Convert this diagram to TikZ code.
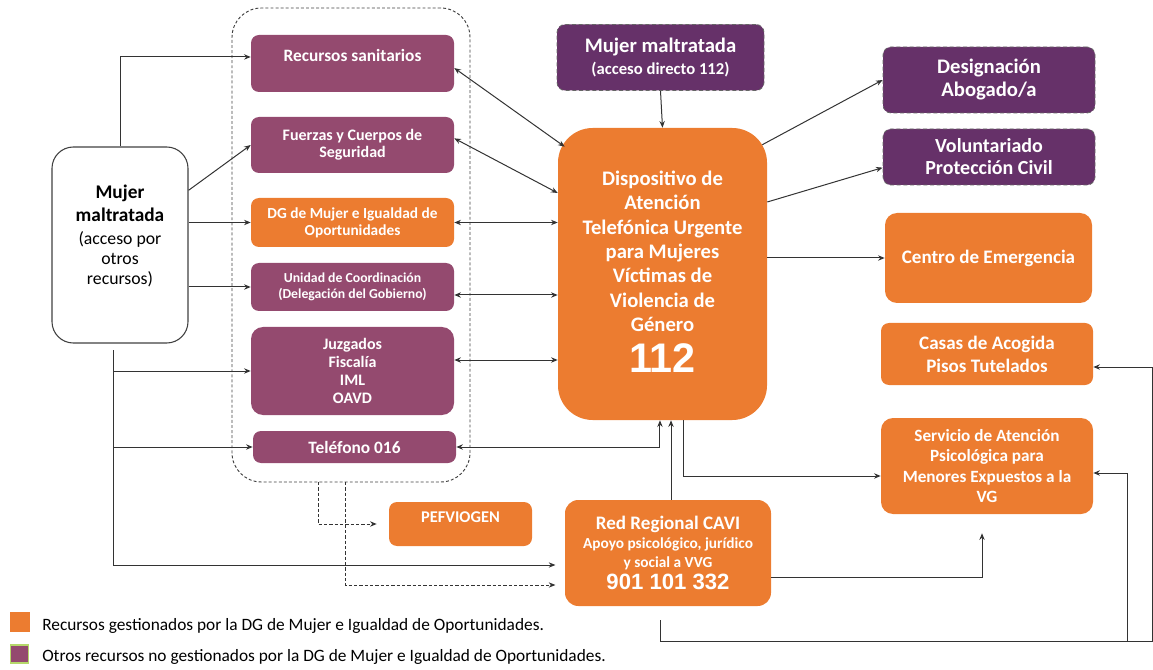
\documentclass[tikz,border=0pt]{standalone}
\usepackage{fontspec}
\setmainfont{Carlito}
\newfontfamily\arialfont{Liberation Sans}
\usetikzlibrary{arrows.meta,calc}
\definecolor{orng}{HTML}{EC7C30}
\definecolor{mauve}{HTML}{944A6F}
\definecolor{dpurp}{HTML}{663169}
\definecolor{lgreen}{HTML}{B5D86A}
\definecolor{lnc}{HTML}{333333}
\tikzset{
  x=0.75pt, y=-0.75pt,
  bx/.style={rounded corners=6pt, text=white, align=center, inner sep=1pt},
  pbox/.style={bx, fill=mauve},
  obox/.style={bx, fill=orng},
  dbox/.style={bx, fill=dpurp, draw=black!60, densely dashed, line width=0.6pt},
  arr/.style={draw=lnc, line width=0.75pt, -{Stealth[length=5pt,width=4pt]}},
  darr/.style={draw=lnc, line width=0.75pt, {Stealth[length=5pt,width=4pt]}-{Stealth[length=5pt,width=4pt]}},
  dsh/.style={arr, dash pattern=on 2.5pt off 1.5pt},
  lgtxt/.style={anchor=west, inner sep=0pt, font=\fontsize{13}{14}\selectfont},
}
\begin{document}
\begin{tikzpicture}
\useasboundingbox (0,0) rectangle (1153,670);
% dashed group
\node[draw=black!75, dash pattern=on 2.2pt off 1.6pt, line width=0.7pt, rounded corners=22pt,
  minimum width=238*0.75pt, minimum height=474*0.75pt] (grp) at (351,245) {};
% left box
\node[draw=black!75, line width=0.8pt, rounded corners=16pt, align=center, inner sep=0pt,
  minimum width=136*0.75pt, minimum height=196*0.75pt, font=\fontsize{13.3}{15}\selectfont] (lm) at (120,245)
  {\fontsize{14.5}{15}\selectfont\bfseries Mujer\\[2.25pt]\fontsize{14.5}{15}\selectfont\bfseries maltratada\\[2.25pt]
   (acceso por\\otros\\recursos)\\\mbox{}};
% resources inside group
\node[pbox, minimum width=203*0.75pt, minimum height=57*0.75pt, font=\bfseries\fontsize{13}{12.75}\selectfont] (rs) at (352.5,63.5) {Recursos sanitarios\\\mbox{}};
\node[pbox, minimum width=203*0.75pt, minimum height=56*0.75pt, font=\bfseries\fontsize{12}{12.75}\selectfont] (fz) at (352.5,145) {Fuerzas y Cuerpos de\\Seguridad};
\node[obox, minimum width=203*0.75pt, minimum height=49*0.75pt, font=\bfseries\fontsize{11.5}{12.75}\selectfont] (dg) at (352.5,222.5) {DG de Mujer e Igualdad de\\Oportunidades};
\node[pbox, minimum width=203*0.75pt, minimum height=48*0.75pt, font=\bfseries\fontsize{10.3}{12}\selectfont] (uc) at (352.5,287) {Unidad de Coordinación\\(Delegación del Gobierno)};
\node[pbox, rounded corners=9pt, minimum width=203*0.75pt, minimum height=88*0.75pt, font=\bfseries\fontsize{12}{13.5}\selectfont] (jz) at (352.5,371) {Juzgados\\Fiscalía\\IML\\OAVD};
\node[pbox, minimum width=203*0.75pt, minimum height=32*0.75pt, font=\bfseries\fontsize{13}{14}\selectfont] (tel) at (354.5,447) {Teléfono 016};
% top centre
\node[dbox, minimum width=207*0.75pt, minimum height=66*0.75pt, font=\bfseries\fontsize{15.5}{16.5}\selectfont] (md) at (660.5,57.5)
  {Mujer maltratada\\\fontsize{12.5}{13}\selectfont (acceso directo 112)};
% main 112
\node[obox, rounded corners=26pt, minimum width=209*0.75pt, minimum height=292*0.75pt, font=\bfseries\fontsize{15.5}{18.25}\selectfont] (d112) at (662.5,274)
  {Dispositivo de\\Atención\\Telefónica Urgente\\para Mujeres\\Víctimas de\\Violencia de\\Género\\[8pt]
   \arialfont\bfseries\fontsize{31}{32}\selectfont 112\\[-15pt]\mbox{}};
% right column
\node[dbox, minimum width=212*0.75pt, minimum height=66*0.75pt, font=\bfseries\fontsize{15.5}{17.25}\selectfont] (dab) at (989,80) {Designación\\Abogado/a};
\node[dbox, minimum width=212*0.75pt, minimum height=56*0.75pt, font=\bfseries\fontsize{15}{16.5}\selectfont] (vol) at (989,157) {Voluntariado\\Protección Civil};
\node[obox, rounded corners=9pt, minimum width=207*0.75pt, minimum height=90*0.75pt, font=\bfseries\fontsize{14.3}{16}\selectfont] (ce) at (988.5,258) {Centro de Emergencia};
\node[obox, minimum width=212*0.75pt, minimum height=62*0.75pt, font=\bfseries\fontsize{14.3}{17.25}\selectfont] (cas) at (987,354) {Casas de Acogida\\Pisos Tutelados};
\node[obox, rounded corners=9pt, minimum width=212*0.75pt, minimum height=96*0.75pt, font=\bfseries\fontsize{12.9}{15.25}\selectfont] (sap) at (987,466) {Servicio de Atención\\Psicológica para\\Menores Expuestos a la\\VG};
% bottom
\node[obox, rounded corners=10pt, minimum width=206*0.75pt, minimum height=106*0.75pt, font=\bfseries\fontsize{11.5}{14.25}\selectfont] (cavi) at (668,553)
  {\fontsize{14.3}{14.25}\selectfont Red Regional CAVI\\
   Apoyo psicológico, jurídico\\y social a VVG\\[2.25pt]
   \arialfont\bfseries\fontsize{16.6}{16}\selectfont 901 101 332};
\node[obox, minimum width=143*0.75pt, minimum height=44*0.75pt, font=\bfseries\fontsize{12.3}{10.5}\selectfont] (pef) at (460.5,524) {PEFVIOGEN\\\mbox{}};
% legend
\node[fill=orng, minimum size=15pt, inner sep=0pt] (lg1) at (19.5,622) {};
\node[fill=mauve, draw=lgreen, line width=0.8pt, minimum size=13.5pt, inner sep=0pt] (lg2) at (19.5,654) {};
\node[lgtxt] (lt1) at (42,626) {Recursos gestionados por la DG de Mujer e Igualdad de Oportunidades.};
\node[lgtxt] (lt2) at (42,657) {Otros recursos no gestionados por la DG de Mujer e Igualdad de Oportunidades.};
% connectors from left box
\draw[arr] (lm.north) |- ([yshift=4.9pt]rs.west);
\draw[arr] ([yshift=41pt]lm.east) -- (fz.west);
\draw[arr] (lm.east |- dg.west) -- (dg.west);
\draw[arr] (lm.east |- uc.west) -- (uc.west);
\coordinate (t0) at (113,350);
\draw[arr, shorten >=7pt] (t0) |- ([yshift=-9pt]cavi.west);
\draw[arr] (t0 |- jz.west) -- (jz.west);
\draw[arr] (t0 |- tel.west) -- (tel.west);
% dashed from group
\coordinate (g1) at (318,482);
\coordinate (g2) at (345,482);
\draw[dsh, shorten >=9pt] (g1) |- (pef.west);
\draw[dsh, shorten >=7pt] (g2) |- ([yshift=-24pt]cavi.west);
% group to 112
\draw[darr] ([yshift=-3.4pt]rs.east) -- ([shift={(7,19)}]d112.north west);
\draw[darr] ([yshift=5pt]fz.east) -- ([yshift=60.75pt]d112.west);
\draw[darr] (dg.east) -- (dg.east -| d112.west);
\draw[darr] ([yshift=-6pt]uc.east) -- ([yshift=-6pt]uc.east -| d112.west);
\draw[darr] ([yshift=8.25pt]jz.east) -- ([yshift=8.25pt]jz.east -| d112.west);
\draw[darr] (tel.east) -| ([xshift=-1.9pt]d112.south);
\draw[arr] (md.south) -- (d112.north);
\draw[arr] ([xshift=2.25pt]cavi.north) -- ([xshift=2.25pt]cavi.north |- d112.south);
\draw[arr] ([xshift=15.4pt]d112.south) |- ([yshift=-7.5pt]sap.west);
\draw[arr] ([yshift=-18pt]cavi.east) -| ([shift={(-5,19)}]sap.south);
% 112 to right
\draw[arr] ([shift={(-5,17)}]d112.north east) -- (dab.west);
\draw[arr] ([yshift=54pt]d112.east) -- ([yshift=-8pt]vol.west);
\draw[arr] (ce.west -| d112.east) -- (ce.west);
% bottom loop
\coordinate (b0) at (660,620);
\coordinate (b1) at (1152,641);
\coordinate (b2) at (1127,641);
\draw[arr] (b0) |- (b1) |- ([yshift=-9.75pt]cas.east);
\draw[arr] (b2) |- ([yshift=-5.25pt]sap.east);
\end{tikzpicture}
\end{document}
